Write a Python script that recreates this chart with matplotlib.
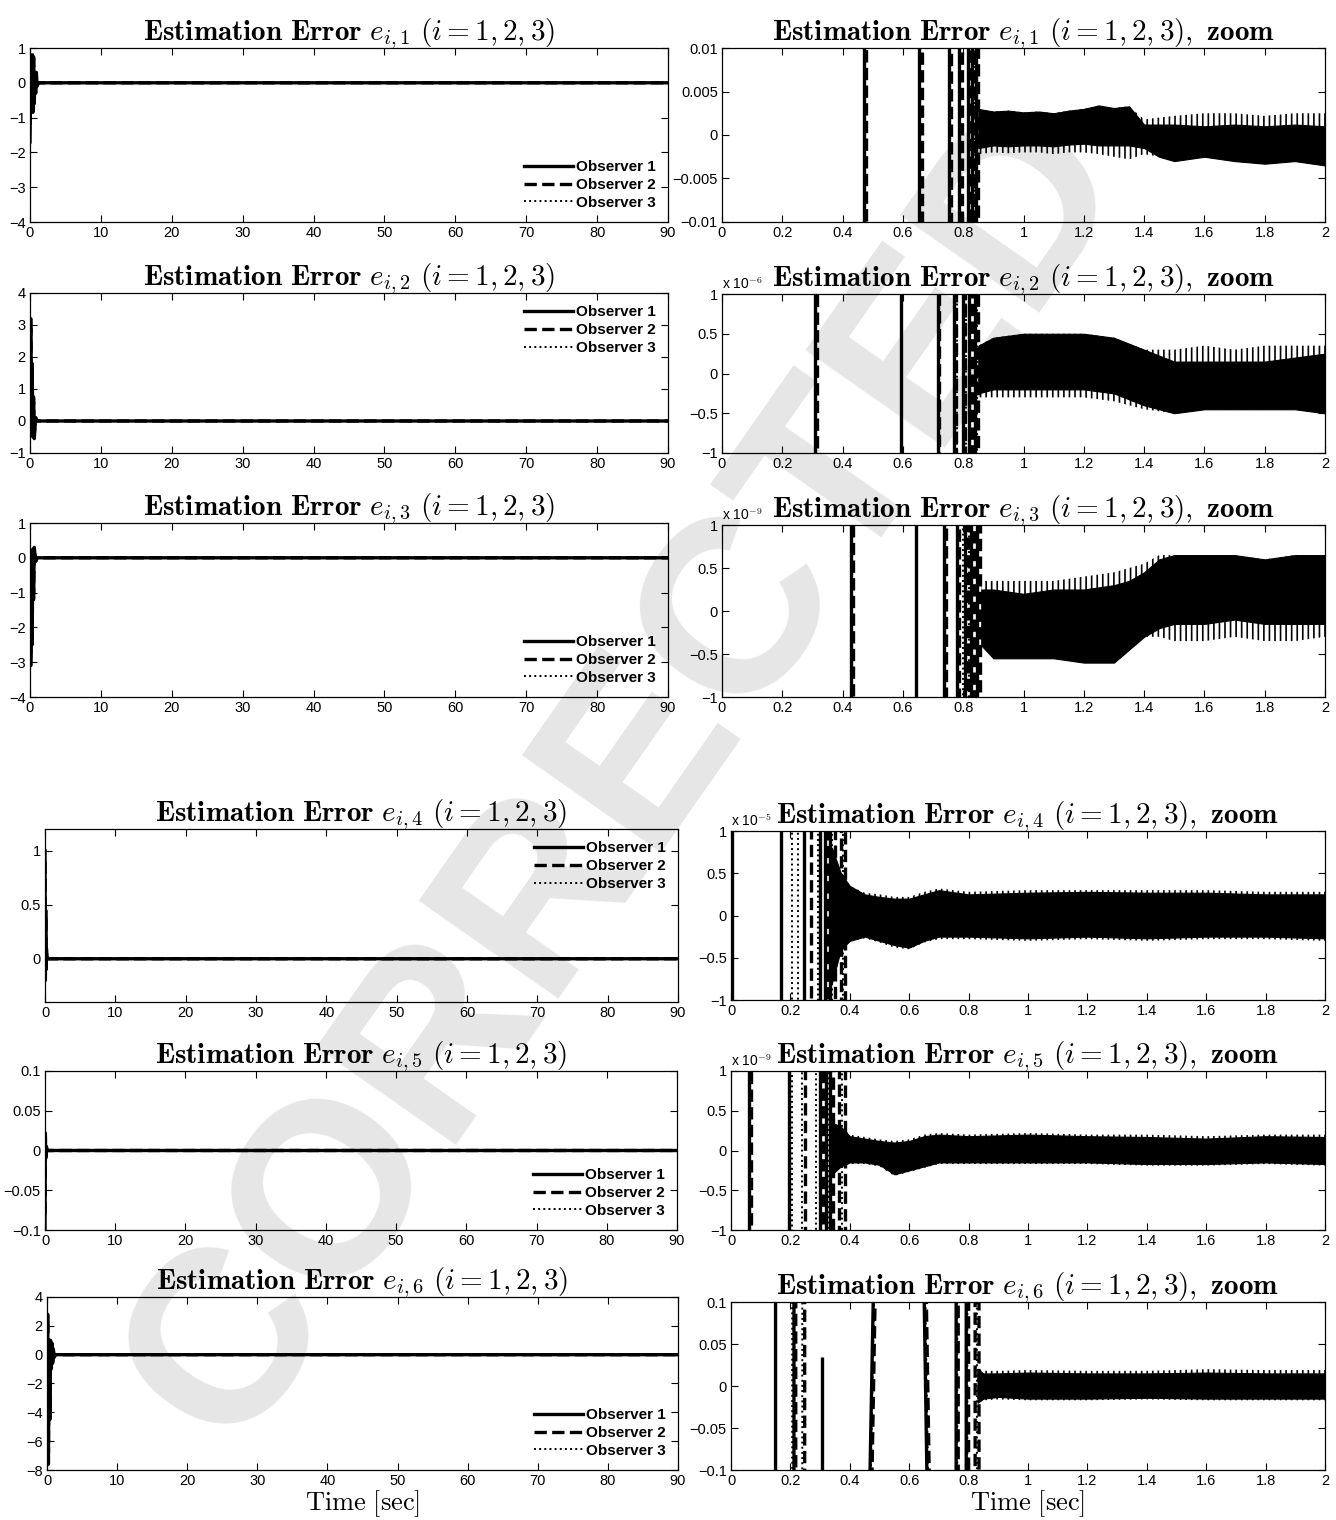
import numpy as np
import matplotlib
matplotlib.use("Agg")
import matplotlib.pyplot as plt
from matplotlib.ticker import FuncFormatter, MultipleLocator

plt.rcParams['font.family'] = ['Liberation Sans Narrow', 'Liberation Sans', 'DejaVu Sans']
plt.rcParams['mathtext.fontset'] = 'cm'
plt.rcParams['hatch.linewidth'] = 1.2

# ---------------- full-horizon transients (t in sec) ----------------
e1_t = [0, 0.1, 0.2, 0.3, 0.4, 0.5, 0.6, 0.7, 0.8, 0.9, 1.0, 1.2, 90]
e1_obs1 = [-1.7, 0.4, -0.6, 0.8, -0.85, 0.75, -0.6, 0.3, -0.3, 0.3, -0.1, 0, 0]
e1_obs2 = [-1.2, 0.5, -0.5, 0.85, -0.8, 0.7, -0.5, 0.25, -0.2, 0.2, -0.05, 0, 0]
e1_obs3 = [-0.8, 0.3, -0.4, 0.7, -0.7, 0.6, -0.4, 0.2, -0.2, 0.15, 0, 0, 0]

e2_t = [0, 0.1, 0.2, 0.3, 0.4, 0.5, 0.6, 0.8, 1.0, 90]
e2_obs1 = [0, 3.2, -0.3, 1.8, -0.4, 0.75, -0.55, 0.1, 0, 0]
e2_obs2 = [0, 2.9, -0.2, 1.5, -0.5, 0.6, -0.4, 0.1, 0, 0]
e2_obs3 = [0, 2.5, -0.1, 1.2, -0.3, 0.5, -0.3, 0.05, 0, 0]

e3_t = [0, 0.1, 0.2, 0.3, 0.4, 0.5, 0.6, 0.8, 1.0, 90]
e3_obs1 = [0, -3.1, -0.5, -2.5, 0.2, -1.2, 0.3, -0.1, 0, 0]
e3_obs2 = [0, -2.9, -0.4, -2.2, 0.25, -1.0, 0.2, -0.1, 0, 0]
e3_obs3 = [0, -2.6, -0.3, -1.8, 0.1, -0.8, 0.15, 0, 0, 0]

e4_t = [0, 0.05, 0.1, 0.15, 0.2, 0.3, 0.4, 90]
e4_obs1 = [1.0, -0.2, 0.45, -0.1, 0.1, 0.02, 0, 0]
e4_obs2 = [0.9, -0.15, 0.4, -0.1, 0.05, 0, 0, 0]
e4_obs3 = [0.8, -0.1, 0.3, -0.05, 0.05, 0, 0, 0]

e5_t = [0, 0.05, 0.1, 0.2, 0.3, 90]
e5_obs1 = [-0.1, 0.022, -0.01, 0.005, 0, 0]
e5_obs2 = [-0.08, 0.018, -0.008, 0.004, 0, 0]
e5_obs3 = [-0.06, 0.015, -0.006, 0.003, 0, 0]

e6_t = [0, 0.1, 0.2, 0.3, 0.4, 0.5, 0.6, 0.7, 0.8, 0.9, 1.0, 1.2, 90]
e6_obs1 = [0, 2.8, -7.6, 1.0, -4.5, 1.0, -1.0, 0.8, -0.6, 0.4, -0.2, 0, 0]
e6_obs2 = [0, 2.4, -6.8, 0.9, -4.0, 0.9, -0.9, 0.7, -0.5, 0.3, -0.1, 0, 0]
e6_obs3 = [0, 2.0, -6.0, 0.8, -3.5, 0.8, -0.8, 0.6, -0.4, 0.3, -0.1, 0, 0]

# ---------------- zoomed window 0..2 sec ----------------
# times where each observer's trace sweeps through the whole zoom range
z1_cross_obs1 = [0.470, 0.652, 0.752, 0.786, 0.815, 0.830, 0.842]
z1_cross_obs2 = [0.478, 0.662, 0.760, 0.795, 0.822, 0.836, 0.848]
z1_cross_obs3 = [0.474, 0.657, 0.756, 0.790, 0.818, 0.840]
z1_band_t = [0.85, 0.9, 0.95, 1.0, 1.05, 1.1, 1.15, 1.2, 1.25, 1.3, 1.35, 1.4, 1.45, 1.5, 1.6, 1.7, 1.8, 1.9, 2.0]
z1_core_hi = [0.0030, 0.0027, 0.0028, 0.0026, 0.0027, 0.0025, 0.0028, 0.0030, 0.0034, 0.0031, 0.0033, 0.0012, 0.0012, 0.0012, 0.0010, 0.0012, 0.0010, 0.0012, 0.0010]
z1_core_lo = [-0.0015, -0.0012, -0.0013, -0.0012, -0.0012, -0.0013, -0.0011, -0.0010, -0.0012, -0.0012, -0.0012, -0.0015, -0.0025, -0.0030, -0.0025, -0.0030, -0.0033, -0.0030, -0.0035]
z1_fringe_hi = [0.0030, 0.0027, 0.0028, 0.0026, 0.0027, 0.0025, 0.0028, 0.0030, 0.0034, 0.0031, 0.0033, 0.0018, 0.0020, 0.0022, 0.0025, 0.0025, 0.0022, 0.0025, 0.0025]
z1_fringe_lo = [-0.0022, -0.0020, -0.0021, -0.0020, -0.0020, -0.0022, -0.0020, -0.0020, -0.0022, -0.0025, -0.0028, -0.0022, -0.0025, -0.0030, -0.0025, -0.0030, -0.0033, -0.0030, -0.0035]

z2_cross_obs1 = [0.308, 0.595, 0.715, 0.770, 0.800, 0.820, 0.840]
z2_cross_obs2 = [0.314, 0.720, 0.776, 0.806, 0.830, 0.850]
z2_cross_obs3 = [0.311, 0.598, 0.718, 0.780, 0.810, 0.845]
z2_band_t = [0.85, 0.9, 1.0, 1.1, 1.2, 1.3, 1.4, 1.5, 1.6, 1.7, 1.8, 1.9, 2.0]
z2_core_hi = [0.35, 0.45, 0.5, 0.5, 0.5, 0.45, 0.3, 0.15, 0.15, 0.15, 0.15, 0.2, 0.25]
z2_core_lo = [-0.25, -0.2, -0.2, -0.2, -0.2, -0.25, -0.4, -0.5, -0.45, -0.45, -0.45, -0.45, -0.5]
z2_fringe_hi = [0.35, 0.45, 0.5, 0.5, 0.5, 0.45, 0.3, 0.3, 0.35, 0.3, 0.35, 0.35, 0.35]
z2_fringe_lo = [-0.3, -0.3, -0.3, -0.3, -0.3, -0.35, -0.45, -0.5, -0.45, -0.45, -0.45, -0.45, -0.5]

z3_cross_obs1 = [0.428, 0.645, 0.736, 0.780, 0.805, 0.825, 0.845]
z3_cross_obs2 = [0.433, 0.742, 0.785, 0.815, 0.835, 0.855]
z3_cross_obs3 = [0.430, 0.648, 0.739, 0.800, 0.820, 0.850]
z3_band_t = [0.86, 0.9, 1.0, 1.1, 1.2, 1.3, 1.35, 1.4, 1.45, 1.5, 1.6, 1.7, 1.8, 1.9, 2.0]
z3_core_hi = [0.25, 0.25, 0.2, 0.25, 0.25, 0.3, 0.35, 0.45, 0.6, 0.65, 0.65, 0.65, 0.6, 0.65, 0.65]
z3_core_lo = [-0.4, -0.55, -0.55, -0.55, -0.6, -0.6, -0.45, -0.3, -0.2, -0.15, -0.15, -0.1, -0.15, -0.15, -0.15]
z3_fringe_hi = [0.35, 0.35, 0.35, 0.35, 0.4, 0.45, 0.5, 0.55, 0.65, 0.65, 0.65, 0.65, 0.6, 0.65, 0.65]
z3_fringe_lo = [-0.4, -0.55, -0.55, -0.55, -0.6, -0.6, -0.45, -0.3, -0.3, -0.35, -0.35, -0.3, -0.35, -0.35, -0.3]

z4_cross_obs1 = [0.005, 0.170, 0.245, 0.300, 0.318, 0.335]
z4_cross_obs2 = [0.270, 0.325, 0.350, 0.370, 0.385]
z4_cross_obs3 = [0.205, 0.225, 0.292, 0.340, 0.378]
z4_band_t = [0.34, 0.37, 0.4, 0.45, 0.5, 0.55, 0.6, 0.65, 0.7, 0.8, 1.0, 1.2, 1.4, 1.6, 1.8, 2.0]
z4_core_hi = [0.8, 0.5, 0.35, 0.25, 0.22, 0.2, 0.2, 0.25, 0.3, 0.25, 0.27, 0.28, 0.27, 0.27, 0.25, 0.25]
z4_core_lo = [-0.8, -0.4, -0.3, -0.25, -0.3, -0.35, -0.38, -0.3, -0.25, -0.25, -0.27, -0.25, -0.27, -0.25, -0.25, -0.27]
z4_fringe_hi = [0.8, 0.5, 0.35, 0.27, 0.25, 0.22, 0.22, 0.28, 0.32, 0.28, 0.3, 0.3, 0.3, 0.3, 0.28, 0.28]
z4_fringe_lo = [-0.8, -0.4, -0.3, -0.27, -0.32, -0.38, -0.4, -0.32, -0.28, -0.28, -0.3, -0.28, -0.3, -0.28, -0.28, -0.3]

z5_cross_obs1 = [0.060, 0.195, 0.300, 0.320, 0.335]
z5_cross_obs2 = [0.068, 0.250, 0.310, 0.345, 0.365, 0.385]
z5_cross_obs3 = [0.205, 0.240, 0.285, 0.328, 0.375]
z5_band_t = [0.34, 0.37, 0.4, 0.45, 0.5, 0.55, 0.6, 0.65, 0.7, 0.8, 1.0, 1.2, 1.4, 1.6, 1.8, 2.0]
z5_core_hi = [0.35, 0.3, 0.18, 0.15, 0.12, 0.1, 0.12, 0.18, 0.2, 0.18, 0.2, 0.18, 0.17, 0.15, 0.18, 0.17]
z5_core_lo = [-0.3, -0.2, -0.15, -0.15, -0.18, -0.3, -0.25, -0.2, -0.15, -0.15, -0.15, -0.15, -0.17, -0.17, -0.15, -0.17]
z5_fringe_hi = [0.35, 0.3, 0.2, 0.17, 0.14, 0.12, 0.14, 0.2, 0.22, 0.2, 0.22, 0.2, 0.2, 0.18, 0.2, 0.2]
z5_fringe_lo = [-0.3, -0.22, -0.17, -0.17, -0.2, -0.32, -0.27, -0.22, -0.17, -0.17, -0.17, -0.17, -0.19, -0.19, -0.17, -0.19]

z6_cross_obs1 = [0.150, 0.212, (0.465, 0.482), (0.648, 0.662), 0.758, 0.792]
z6_cross_obs2 = [0.218, 0.248, (0.472, 0.488), (0.655, 0.670), 0.765, 0.800, 0.822, 0.835]
z6_cross_obs3 = [0.206, 0.240, (0.468, 0.485), (0.652, 0.666), 0.762, 0.796, 0.828]
z6_spike_t = [0.305]
z6_spike_peak = [0.035]
z6_band_t = [0.83, 0.85, 0.9, 1.0, 1.2, 1.4, 1.6, 1.8, 2.0]
z6_core_hi = [0.02, 0.015, 0.015, 0.016, 0.015, 0.015, 0.016, 0.015, 0.015]
z6_core_lo = [-0.02, -0.015, -0.013, -0.015, -0.015, -0.014, -0.015, -0.015, -0.015]
z6_fringe_hi = [0.02, 0.018, 0.018, 0.019, 0.018, 0.018, 0.02, 0.019, 0.019]
z6_fringe_lo = [-0.02, -0.017, -0.016, -0.017, -0.017, -0.016, -0.017, -0.017, -0.017]

labels = ['Observer 1', 'Observer 2', 'Observer 3']
styles = [dict(ls='-', lw=2.4), dict(ls='--', lw=2.4), dict(ls=':', lw=1.4)]


def fmt(v, pos):
    s = '%g' % v
    return s.replace('-', '\u2212')


def style_axes(ax, xlim, xstep, ylim, ystep):
    ax.set_facecolor('none')
    ax.set_xlim(xlim)
    ax.set_ylim(ylim)
    ax.xaxis.set_major_locator(MultipleLocator(xstep))
    ax.yaxis.set_major_locator(MultipleLocator(ystep))
    ax.xaxis.set_major_formatter(FuncFormatter(fmt))
    ax.yaxis.set_major_formatter(FuncFormatter(fmt))
    ax.tick_params(direction='in', top=True, right=True, length=5, width=0.8,
                   labelsize=10.5, pad=3)
    for sp in ax.spines.values():
        sp.set_linewidth(0.9)


def title(ax, k, zoom=False):
    s = r'$\mathbf{Estimation\ Error}\ e_{i,%d}\ (i=1,2,3)' % k
    s += r',\ \mathbf{zoom}$' if zoom else '$'
    ax.set_title(s, fontsize=21, pad=6)


def full_panel(ax, k, t, series, ylim, ystep, loc):
    for y, st, lab in zip(series, styles, labels):
        ax.plot(t, y, color='black', label=lab, **st)
    style_axes(ax, (0, 90), 10, ylim, ystep)
    title(ax, k)
    ax.legend(loc=loc, frameon=False, handlelength=3.2, handletextpad=0.2,
              labelspacing=0.25, borderaxespad=0.4,
              prop=dict(weight='bold', size=11))


def sweep(ax, crossings, lim, st):
    # trace jumping between far values above and below the window
    ts, ys = [], []
    for i, c in enumerate(crossings):
        t0, t1 = c if isinstance(c, tuple) else (c, c)
        a, b = (-lim, lim) if i % 2 == 0 else (lim, -lim)
        ts += [t0, t1]
        ys += [a, b]
    ax.plot(ts, ys, color='black', **st)


def zoom_panel(ax, k, crosses, band_t, core_hi, core_lo, fr_hi, fr_lo, ylim, ystep,
               mult=None):
    lim = ylim[1] * 1.6
    ax.fill_between(band_t, fr_lo, fr_hi, facecolor='none', edgecolor='black',
                    hatch='|||', lw=0)
    ax.fill_between(band_t, core_lo, core_hi, color='black', lw=0.8)
    for cr, st in zip(crosses, styles):
        sweep(ax, cr, lim, st)
    style_axes(ax, (0, 2), 0.2, ylim, ystep)
    title(ax, k, zoom=True)
    if mult:
        ax.text(0.0, 1.01, r'x 10$^{%d}$' % mult, transform=ax.transAxes,
                fontsize=10, ha='left', va='bottom')


W, H = 1336, 1520
fig = plt.figure(figsize=(W / 100, H / 100), dpi=100)


def add_axes(x0, x1, y0, y1):
    return fig.add_axes([x0 / W, 1 - y1 / H, (x1 - x0) / W, (y1 - y0) / H])


# watermark behind the panels
fig.text(0.47, 0.49, 'CORRECTED', rotation=55, fontsize=178, color='#e6e6e6',
         weight='bold', ha='center', va='center',
         family=['Liberation Sans', 'DejaVu Sans'], zorder=-1)

ax = add_axes(30, 668, 48, 222)
full_panel(ax, 1, e1_t, [e1_obs1, e1_obs2, e1_obs3], (-4, 1), 1, 'lower right')
ax = add_axes(30, 668, 293, 453)
full_panel(ax, 2, e2_t, [e2_obs1, e2_obs2, e2_obs3], (-1, 4), 1, 'upper right')
ax = add_axes(30, 668, 523, 697)
full_panel(ax, 3, e3_t, [e3_obs1, e3_obs2, e3_obs3], (-4, 1), 1, 'lower right')
ax = add_axes(45, 678, 829, 1002)
full_panel(ax, 4, e4_t, [e4_obs1, e4_obs2, e4_obs3], (-0.4, 1.2), 0.5, 'upper right')
ax.set_yticks([0, 0.5, 1])
ax = add_axes(45, 677, 1071, 1230)
full_panel(ax, 5, e5_t, [e5_obs1, e5_obs2, e5_obs3], (-0.1, 0.1), 0.05, 'lower right')
ax = add_axes(47, 678, 1297, 1470)
full_panel(ax, 6, e6_t, [e6_obs1, e6_obs2, e6_obs3], (-8, 4), 2, 'lower right')
ax.set_xlabel(r'$\mathrm{Time\ [sec]}$', fontsize=19, labelpad=0)

ax = add_axes(722, 1325, 48, 222)
zoom_panel(ax, 1, [z1_cross_obs1, z1_cross_obs2, z1_cross_obs3], z1_band_t,
           z1_core_hi, z1_core_lo, z1_fringe_hi, z1_fringe_lo, (-0.01, 0.01), 0.005)
ax = add_axes(722, 1325, 294, 453)
zoom_panel(ax, 2, [z2_cross_obs1, z2_cross_obs2, z2_cross_obs3], z2_band_t,
           z2_core_hi, z2_core_lo, z2_fringe_hi, z2_fringe_lo, (-1, 1), 0.5, mult=-6)
ax = add_axes(722, 1325, 525, 697)
zoom_panel(ax, 3, [z3_cross_obs1, z3_cross_obs2, z3_cross_obs3], z3_band_t,
           z3_core_hi, z3_core_lo, z3_fringe_hi, z3_fringe_lo, (-1, 1), 0.5, mult=-9)
ax = add_axes(731, 1325, 831, 1000)
zoom_panel(ax, 4, [z4_cross_obs1, z4_cross_obs2, z4_cross_obs3], z4_band_t,
           z4_core_hi, z4_core_lo, z4_fringe_hi, z4_fringe_lo, (-1, 1), 0.5, mult=-5)
ax = add_axes(731, 1325, 1071, 1230)
zoom_panel(ax, 5, [z5_cross_obs1, z5_cross_obs2, z5_cross_obs3], z5_band_t,
           z5_core_hi, z5_core_lo, z5_fringe_hi, z5_fringe_lo, (-1, 1), 0.5, mult=-9)
ax = add_axes(731, 1325, 1302, 1470)
zoom_panel(ax, 6, [z6_cross_obs1, z6_cross_obs2, z6_cross_obs3], z6_band_t,
           z6_core_hi, z6_core_lo, z6_fringe_hi, z6_fringe_lo, (-0.1, 0.1), 0.05)
ax.vlines(z6_spike_t, -0.1, z6_spike_peak, color='black', lw=2.4)
ax.set_xlabel(r'$\mathrm{Time\ [sec]}$', fontsize=19, labelpad=0)

fig.savefig('out.png', dpi=100)
